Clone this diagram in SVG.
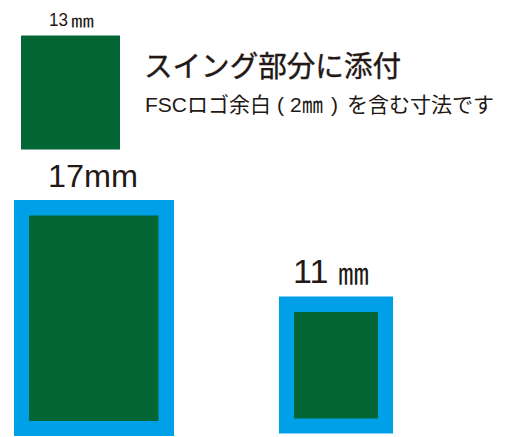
<svg xmlns="http://www.w3.org/2000/svg" width="523" height="437" viewBox="0 0 523 437">
<style>
.g{fill:#036635}.b{fill:#00a0e9}
text{fill:#231815;font-family:"Noto Sans CJK JP","Noto Sans",sans-serif}
.l{font-family:"Liberation Sans","Noto Sans CJK JP",sans-serif}
</style>
<rect width="523" height="437" fill="#fff"/>
<g id="swatch-13"><rect class="g" x="21" y="35.500" width="99" height="114"/><text class="l" x="49" y="26" font-size="19" textLength="19" lengthAdjust="spacingAndGlyphs">13</text><text x="71" y="27" font-size="17" textLength="23" lengthAdjust="spacingAndGlyphs">㎜</text></g>
<g id="caption"><text x="144" y="77" font-size="29" stroke="#231815" stroke-width="0.4" textLength="257" lengthAdjust="spacingAndGlyphs">スイング部分に添付</text><text y="112" font-size="21"><tspan class="l" x="145">FSC</tspan>ロゴ余白<tspan class="l" x="277">(</tspan><tspan class="l" x="290">2</tspan><tspan x="302">㎜</tspan><tspan class="l" x="331">)</tspan><tspan x="347">を含む寸法です</tspan></text></g>
<g id="swatch-17"><rect class="b" x="14" y="200" width="160" height="236"/><rect class="g" x="29" y="215.500" width="129.500" height="205.500"/><text class="l" x="48" y="187" font-size="32" textLength="90" lengthAdjust="spacingAndGlyphs">17mm</text></g>
<g id="swatch-11"><rect class="b" x="279" y="296.500" width="114" height="137"/><rect class="g" x="294" y="312" width="84" height="106.500"/><text class="l" x="293" y="283" font-size="34">11</text><text x="338" y="284" font-size="30" textLength="31" lengthAdjust="spacingAndGlyphs">㎜</text></g>
</svg>
